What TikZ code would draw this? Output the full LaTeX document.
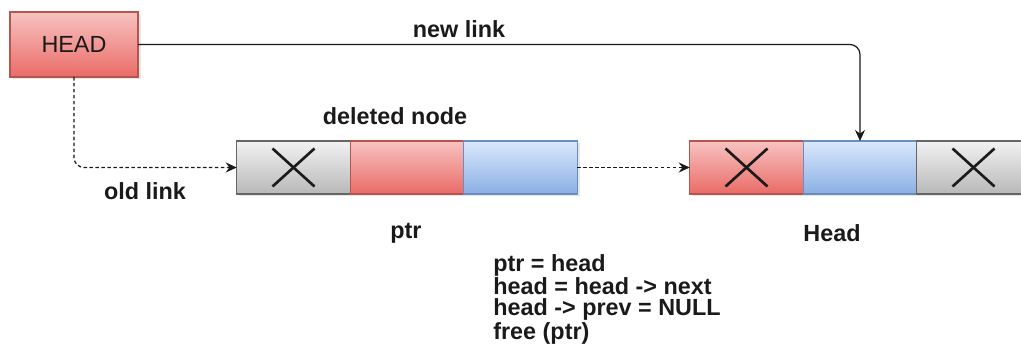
\documentclass[tikz,border=0pt]{standalone}
\usepackage{fontspec}
\setmainfont{Liberation Sans}
\usetikzlibrary{positioning,arrows.meta,shadows}
\definecolor{redtop}{HTML}{F7C3C1}
\definecolor{redbot}{HTML}{EA6B66}
\definecolor{redline}{HTML}{B85450}
\definecolor{bluetop}{HTML}{DAE8FC}
\definecolor{bluebot}{HTML}{8AAFE4}
\definecolor{blueline}{HTML}{6C8EBF}
\definecolor{graytop}{HTML}{F2F2F2}
\definecolor{graybot}{HTML}{B8B8B8}
\definecolor{grayline}{HTML}{666666}
\definecolor{txt}{HTML}{1A1A1A}

\begin{document}
\begin{tikzpicture}[
    cell/.style={draw,line width=0.6pt,minimum width=2.27cm,minimum height=1.06cm,outer sep=0pt,
        drop shadow={opacity=0.2,shadow xshift=0.05cm,shadow yshift=-0.05cm}},
    redcell/.style={cell,top color=redtop,bottom color=redbot,draw=redline},
    bluecell/.style={cell,top color=bluetop,bottom color=bluebot,draw=blueline},
    graycell/.style={cell,top color=graytop,bottom color=graybot,draw=grayline},
    cross/.style={line width=1.5pt,txt},
    lbl/.style={font=\fontsize{13.3}{12}\selectfont\bfseries,text=txt},
    link/.style={line width=0.7pt,txt,-{Stealth[length=2.2mm,width=2mm]}},
    oldlink/.style={link,dash pattern=on 2pt off 1.4pt}
]
        \clip (0,0) rectangle (20.42,7.16);

        \coordinate (d1) at (5.87,3.81);
        \coordinate (h1) at (14.93,3.81);

        % head pointer
        \node[redcell,minimum width=2.56cm,minimum height=1.3cm,
              font=\fontsize{13.3}{12}\selectfont,text=txt] (head) at (1.48,6.27) {HEAD};

        % node to delete
        \node[graycell] (dx) at (d1) {};
        \node[redcell,right=0pt of dx] (dp) {};
        \node[bluecell,right=0pt of dp] (dn) {};

        % new first node
        \node[redcell] (hp) at (h1) {};
        \node[bluecell,right=0pt of hp] (hd) {};
        \node[graycell,right=0pt of hd] (hx) {};

        \draw[cross] ([shift={(-0.42,0.38)}]dx.center) -- ([shift={(0.42,-0.38)}]dx.center);
        \draw[cross] ([shift={(-0.42,-0.38)}]dx.center) -- ([shift={(0.42,0.38)}]dx.center);
        \draw[cross] ([shift={(-0.42,0.38)}]hp.center) -- ([shift={(0.42,-0.38)}]hp.center);
        \draw[cross] ([shift={(-0.42,-0.38)}]hp.center) -- ([shift={(0.42,0.38)}]hp.center);
        \draw[cross] ([shift={(-0.42,0.38)}]hx.center) -- ([shift={(0.42,-0.38)}]hx.center);
        \draw[cross] ([shift={(-0.42,-0.38)}]hx.center) -- ([shift={(0.42,0.38)}]hx.center);

        % links
        \draw[link,rounded corners=0.2cm] (head.east) -| (hd.north);
        \draw[oldlink,rounded corners=0.2cm] (head.south) |- (dx.west);
        \draw[oldlink] (dn.east) -- (hp.west);

        \node[lbl] (newlbl) at (9.18,6.58) {new link};
        \node[lbl] (dellbl) at (7.90,4.84) {deleted node};
        \node[lbl] (oldlbl) at (2.90,3.34) {old link};
        \node[lbl] (ptrlbl) at (8.12,2.50) {ptr};
        \node[lbl] (headlbl) at (16.64,2.50) {Head};
        \node[lbl,align=left,anchor=north west,inner sep=0pt] (code) at (9.86,2.08)
            {ptr = head\\head = head -> next\\head -> prev = NULL\\free (ptr)};
\end{tikzpicture}
\end{document}
